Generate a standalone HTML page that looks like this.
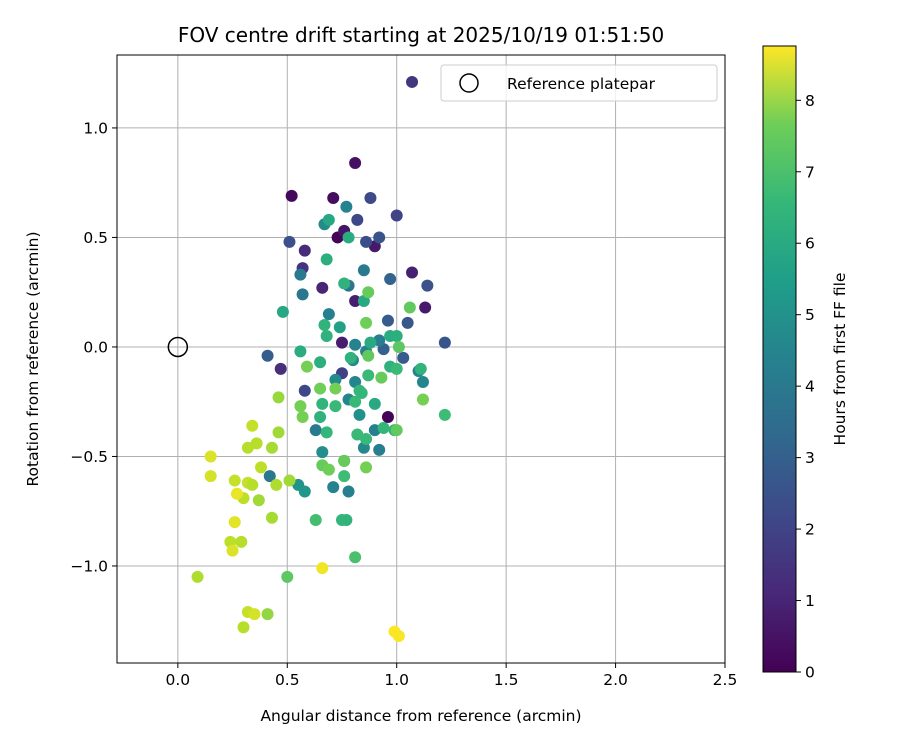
<!DOCTYPE html>
<html><head><meta charset="utf-8"><style>
body{margin:0;background:#fff;}
svg text{font-family:"DejaVu Sans","Liberation Sans",sans-serif;fill:#000;}
</style></head><body>
<svg id="chart" width="900" height="750" viewBox="0 0 900 750">
<defs><linearGradient id="vir" x1="0" y1="1" x2="0" y2="0">
<stop offset="0" stop-color="#440154"/><stop offset="0.125" stop-color="#482878"/><stop offset="0.25" stop-color="#3e4989"/><stop offset="0.375" stop-color="#31688e"/><stop offset="0.5" stop-color="#26828e"/><stop offset="0.625" stop-color="#1f9e89"/><stop offset="0.75" stop-color="#35b779"/><stop offset="0.875" stop-color="#6ece58"/><stop offset="1" stop-color="#fde725"/></linearGradient></defs>
<g id="grid"></g>
<g id="pts"></g>
<g id="axes"></g>
<text x="421" y="42" font-size="20" text-anchor="middle">FOV centre drift starting at 2025/10/19 01:51:50</text>
<text x="421" y="721" font-size="15.5" text-anchor="middle">Angular distance from reference (arcmin)</text>
<text transform="translate(38,359) rotate(-90)" font-size="15.5" text-anchor="middle">Rotation from reference (arcmin)</text>
<g>
<rect x="441" y="65" width="276" height="36" rx="3" fill="#fff" fill-opacity="0.8" stroke="#ccc"/>
<circle cx="469" cy="83" r="9" fill="none" stroke="#000" stroke-width="1.5"/>
<text x="507" y="89" font-size="15.5">Reference platepar</text>
</g>
<rect x="763" y="46" width="33" height="626" fill="url(#vir)" stroke="#000"/>
<g id="cbt"></g>
<text transform="translate(845,359) rotate(-90)" font-size="15.5" text-anchor="middle">Hours from first FF file</text>
</svg>
<script>
const xTicks=[0,0.5,1,1.5,2,2.5];
const yTicks=[-1,-0.5,0,0.5,1];
const cTicks=[0,1,2,3,4,5,6,7,8];
const xs=[0.52,0.71,0.81,0.73,0.76,0.90,0.81,1.07,1.13,0.96,0.66,0.75,0.47,0.58,0.57,1.07,
1.0,0.88,0.51,0.82,0.92,0.86,1.14,1.05,0.96,1.22,0.58,0.41,0.94,1.03,0.97,0.75,
0.57,0.56,0.69,0.77,0.67,0.78,0.85,0.92,1.10,1.12,0.85,0.90,0.92,0.63,0.66,0.71,0.78,0.55,0.58,0.42,0.86,0.81,0.72,0.81,0.83,0.80,0.76,0.78,
0.69,0.78,0.68,0.76,0.85,0.67,0.74,0.48,0.56,0.65,0.68,0.88,0.97,1.00,0.83,0.87,0.97,0.99,0.94,0.86,0.65,0.66,0.68,0.82,0.90,1.22,1.11,0.79,0.84,0.72,0.81,0.76,0.75,0.77,0.63,0.81,0.50,1.0,
1.06,0.87,0.86,1.01,0.87,0.93,0.65,0.59,0.66,0.69,0.86,0.76,1.12,1.0,0.72,0.56,0.57,
0.46,0.34,0.46,0.36,0.32,0.43,0.15,0.38,0.15,0.26,0.32,0.34,0.45,0.51,0.37,0.30,0.27,0.43,0.26,0.29,0.24,0.25,0.09,0.32,0.35,0.41,0.30,0.66,0.99,1.01];
const ys=[0.69,0.68,0.84,0.50,0.53,0.46,0.21,0.34,0.18,-0.32,0.27,0.02,-0.10,0.44,0.36,1.21,
0.60,0.68,0.48,0.58,0.50,0.48,0.28,0.11,0.12,0.02,-0.20,-0.04,-0.01,-0.05,0.31,-0.12,
0.24,0.33,0.15,0.64,0.56,0.28,0.35,0.03,-0.11,-0.16,-0.46,-0.38,-0.47,-0.38,-0.48,-0.64,-0.66,-0.63,-0.66,-0.59,-0.02,0.01,-0.15,-0.16,-0.31,-0.06,-0.52,-0.24,
0.58,0.50,0.40,0.29,0.21,0.10,0.09,0.16,-0.02,-0.07,0.05,0.02,0.05,0.05,-0.20,-0.13,-0.09,-0.38,-0.37,-0.42,-0.32,-0.26,-0.39,-0.40,-0.26,-0.31,-0.10,-0.05,-0.21,-0.27,-0.25,-0.59,-0.79,-0.79,-0.79,-0.96,-1.05,-0.10,
0.18,0.25,0.11,0.00,-0.04,-0.14,-0.19,-0.09,-0.54,-0.56,-0.55,-0.52,-0.24,-0.38,-0.19,-0.27,-0.32,
-0.23,-0.36,-0.39,-0.44,-0.46,-0.46,-0.50,-0.55,-0.59,-0.61,-0.62,-0.63,-0.63,-0.61,-0.70,-0.69,-0.67,-0.78,-0.80,-0.89,-0.89,-0.93,-1.05,-1.21,-1.22,-1.22,-1.28,-1.01,-1.30,-1.32];
const hours=[0.2,0.3,0.4,0.1,0.5,0.6,0.7,0.8,0.6,0.1,0.9,0.7,1.2,1.1,1.3,1.4,
1.8,2.0,2.2,1.9,2.3,2.1,2.2,2.4,2.5,2.3,1.9,2.6,2.7,2.5,2.8,1.7,
3.5,3.6,3.8,3.9,4.2,3.4,3.6,3.7,3.9,4.0,4.1,3.8,3.7,3.6,4.3,3.9,3.8,4.5,4.6,3.5,3.8,3.9,4.2,4.0,4.4,4.1,3.9,4.0,
5.2,5.4,5.5,5.6,5.3,5.7,5.0,5.2,5.4,5.5,5.6,5.3,5.4,5.5,5.8,5.9,5.6,5.7,5.8,5.9,5.6,5.7,5.8,5.9,5.3,6.0,5.7,5.6,5.8,5.9,5.9,6.0,5.8,5.7,6.1,6.2,6.5,5.9,
6.6,6.7,6.8,6.5,6.6,6.7,6.8,6.9,6.7,6.8,6.9,6.7,6.9,6.6,6.9,6.9,6.9,
7.4,8.0,7.5,7.8,7.8,7.6,8.3,7.9,8.2,8.0,8.0,7.8,7.7,7.5,7.5,7.9,8.5,7.6,8.4,7.8,7.9,8.3,7.7,8.0,8.2,7.3,7.8,8.6,8.8,8.7];
const X0=117,X1=725,Y0=55,Y1=663,xmin=-0.278,xmax=2.5,ymin=-1.443,ymax=1.333;
const sx=v=>X0+(v-xmin)/(xmax-xmin)*(X1-X0);
const sy=v=>Y1-(v-ymin)/(ymax-ymin)*(Y1-Y0);
const cy=v=>672-v/8.76*626;
const stops=[[68,1,84],[72,40,120],[62,73,137],[49,104,142],[38,130,142],[31,158,137],[53,183,121],[110,206,88],[181,222,43],[253,231,37]];
function vir(h){let t=Math.max(0,Math.min(1,h/8.76))*9,i=Math.min(8,Math.floor(t)),f=t-i,a=stops[i],b=stops[i+1];
return 'rgb('+a.map((c,k)=>Math.round(c+(b[k]-c)*f)).join(',')+')';}
const NS='http://www.w3.org/2000/svg';
function mk(p,t,at){const e=document.createElementNS(NS,t);for(const k in at)e.setAttribute(k,at[k]);p.appendChild(e);return e;}
const g=document.getElementById('grid'),ax=document.getElementById('axes'),pts=document.getElementById('pts'),cb=document.getElementById('cbt');
xTicks.forEach(v=>{const x=sx(v);
const l=mk(g,'line',{x1:x,x2:x,y1:Y0,y2:Y1,stroke:'#b0b0b0','stroke-width':1});

mk(ax,'line',{x1:x,x2:x,y1:Y1,y2:Y1+5,stroke:'#000'});
const t=mk(ax,'text',{x:x,y:Y1+22,'font-size':15.5,'text-anchor':'middle'});t.textContent=v.toFixed(1);
});
yTicks.forEach(v=>{const y=sy(v);
const l=mk(g,'line',{x1:X0,x2:X1,y1:y,y2:y,stroke:'#b0b0b0','stroke-width':1});

mk(ax,'line',{x1:X0-5,x2:X0,y1:y,y2:y,stroke:'#000'});
const t=mk(ax,'text',{x:X0-9,y:y+5.5,'font-size':15.5,'text-anchor':'end'});t.textContent=(v<0?'\u2212':'')+Math.abs(v).toFixed(1);
});
mk(ax,'rect',{x:X0,y:Y0,width:X1-X0,height:Y1-Y0,fill:'none',stroke:'#000','stroke-width':1});
xs.forEach((v,i)=>{const c=mk(pts,'circle',{cx:sx(v),cy:sy(ys[i]),r:6,fill:vir(hours[i])});
});
const rc=mk(pts,'circle',{cx:sx(0),cy:sy(0),r:9.5,fill:'none',stroke:'#000','stroke-width':1.5});

cTicks.forEach(v=>{const y=cy(v);mk(cb,'line',{x1:796,x2:801,y1:y,y2:y,stroke:'#000'});
const t=mk(cb,'text',{x:805,y:y+5.5,'font-size':15.5});t.textContent=v;
});
</script>
</body></html>
